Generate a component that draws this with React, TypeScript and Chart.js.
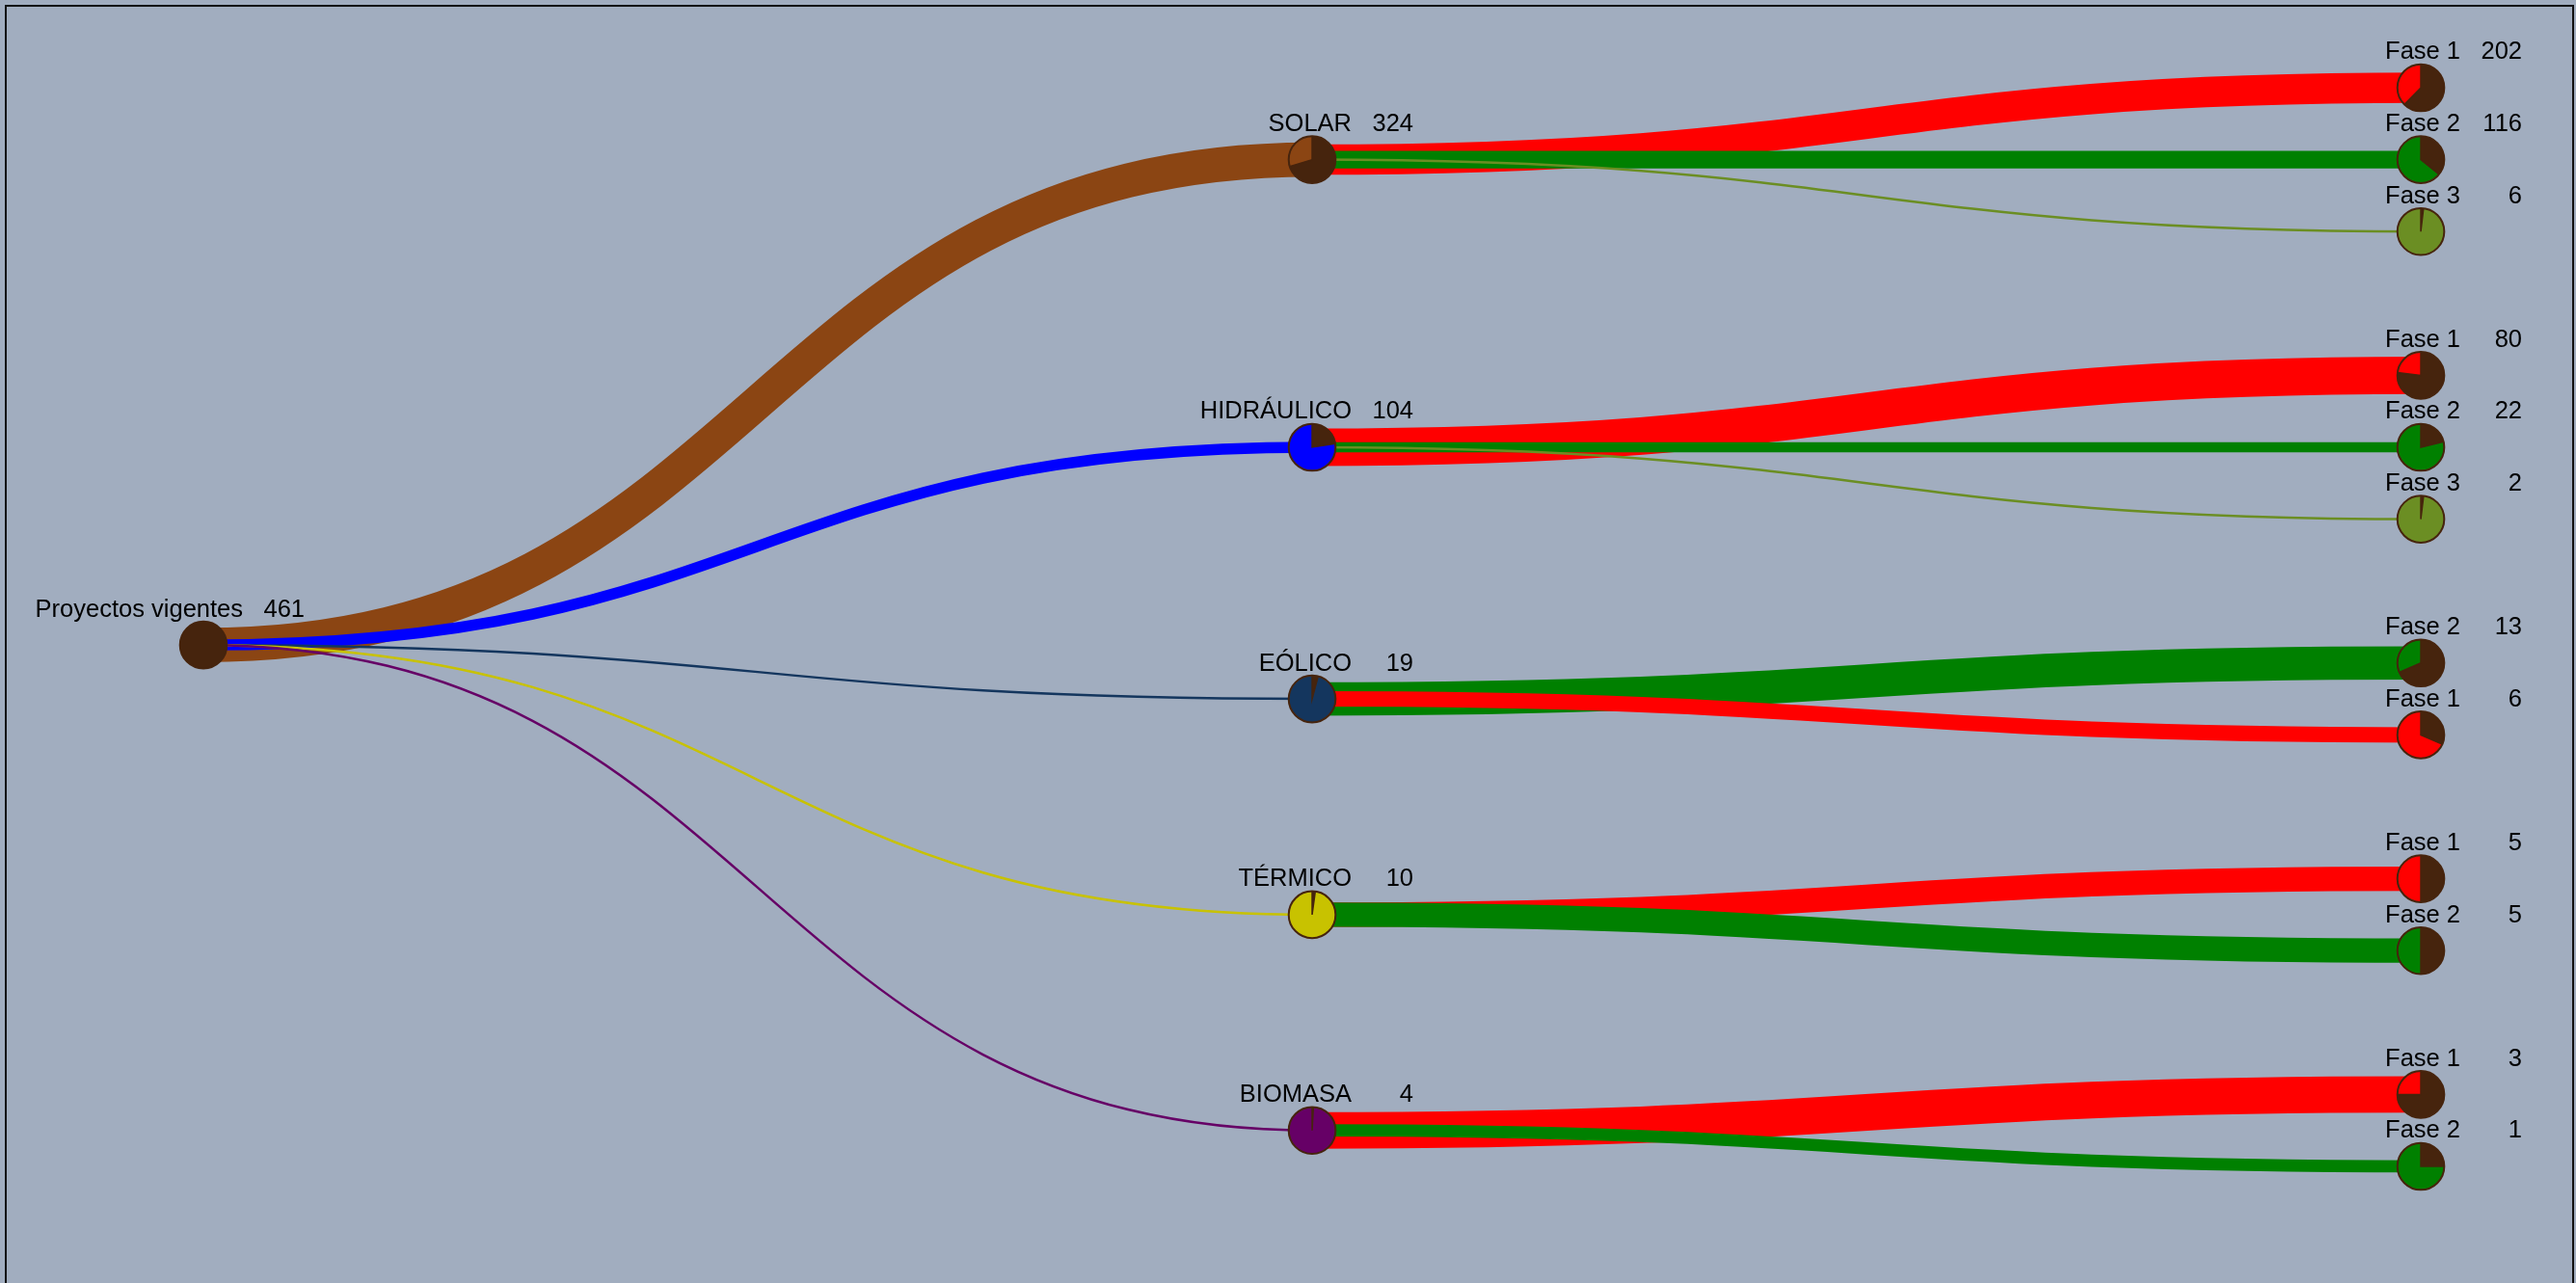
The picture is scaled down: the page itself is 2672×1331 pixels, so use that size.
import React, { useEffect, useRef } from "react";
import { Chart, registerables } from "chart.js";

Chart.register(...registerables);

// ---- data ----
const rootName = "Proyectos vigentes";
const rootValue = 461;
const categories = ["SOLAR", "HIDRÁULICO", "EÓLICO", "TÉRMICO", "BIOMASA"];
const categoryValues = [324, 104, 19, 10, 4];
const phaseNames = [
  ["Fase 1", "Fase 2", "Fase 3"],
  ["Fase 1", "Fase 2", "Fase 3"],
  ["Fase 2", "Fase 1"],
  ["Fase 1", "Fase 2"],
  ["Fase 1", "Fase 2"],
];
const phaseValues = [
  [202, 116, 6],
  [80, 22, 2],
  [13, 6],
  [5, 5],
  [3, 1],
];

// ---- styles ----
const BG = "#a1adbf";
const DARK = "#46240d";
const categoryColors = ["#8b4513", "#0000ff", "#14365e", "#c8c200", "#660066"];
const phaseColors: Record<string, string> = {
  "Fase 1": "#ff0000",
  "Fase 2": "#008000",
  "Fase 3": "#6b8e23",
};
const NODE_R = 24.3;
const LINK_K = 50.6;
const FONT = "25.5px 'Liberation Sans', Arial, sans-serif";

type Node = {
  name: string;
  value: number;
  parentValue: number;
  color: string;
  level: number;
  slot: number;
  parent?: Node;
};

// tidy-tree style layout: siblings 1 slot apart, cousins 2 slots apart,
// parents centred between first and last child
function buildTree(): Node[] {
  let next = 0;
  const cats: Node[] = [];
  const leaves: Node[] = [];
  categories.forEach((c, i) => {
    const kids: Node[] = phaseNames[i].map((p, j) => ({
      name: p,
      value: phaseValues[i][j],
      parentValue: categoryValues[i],
      color: phaseColors[p],
      level: 2,
      slot: next + j,
    }));
    next = kids[kids.length - 1].slot + 2;
    const cat: Node = {
      name: c,
      value: categoryValues[i],
      parentValue: rootValue,
      color: categoryColors[i],
      level: 1,
      slot: (kids[0].slot + kids[kids.length - 1].slot) / 2,
    };
    kids.forEach((k) => (k.parent = cat));
    cats.push(cat);
    leaves.push(...kids);
  });
  const root: Node = {
    name: rootName,
    value: rootValue,
    parentValue: rootValue,
    color: DARK,
    level: 0,
    slot: (cats[0].slot + cats[cats.length - 1].slot) / 2,
  };
  cats.forEach((c) => (c.parent = root));
  return [root, ...cats, ...leaves];
}

const treePlugin = {
  id: "treePlugin",
  afterDatasetsDraw(chart: any) {
    const nodes: Node[] = chart.options.plugins.treePlugin.nodes;
    const xs = chart.scales.x;
    const ys = chart.scales.y;
    const ctx: CanvasRenderingContext2D = chart.ctx;
    const px = (n: Node) => xs.getPixelForValue(n.level);
    const py = (n: Node) => ys.getPixelForValue(n.slot);
    ctx.save();
    // links
    nodes.forEach((n) => {
      if (!n.parent) return;
      const x0 = px(n.parent), y0 = py(n.parent);
      const x1 = px(n), y1 = py(n);
      const mx = (x0 + x1) / 2;
      ctx.beginPath();
      ctx.moveTo(x0, y0);
      ctx.bezierCurveTo(mx, y0, mx, y1, x1, y1);
      ctx.strokeStyle = n.color;
      ctx.lineWidth = Math.max(2.5, (LINK_K * n.value) / n.parentValue);
      ctx.lineCap = "butt";
      ctx.stroke();
    });
    // nodes
    nodes.forEach((n) => {
      const x = px(n), y = py(n);
      const frac = n.value / n.parentValue;
      ctx.beginPath();
      ctx.arc(x, y, NODE_R, 0, Math.PI * 2);
      ctx.fillStyle = n.color;
      ctx.fill();
      if (frac > 0) {
        const a0 = -Math.PI / 2;
        const a1 = a0 + frac * Math.PI * 2;
        ctx.beginPath();
        ctx.moveTo(x, y);
        ctx.arc(x, y, NODE_R, a0, a1);
        ctx.closePath();
        ctx.fillStyle = DARK;
        ctx.fill();
        if (frac < 1) {
          ctx.beginPath();
          ctx.moveTo(x + NODE_R * Math.cos(a0), y + NODE_R * Math.sin(a0));
          ctx.lineTo(x, y);
          ctx.lineTo(x + NODE_R * Math.cos(a1), y + NODE_R * Math.sin(a1));
          ctx.strokeStyle = DARK;
          ctx.lineWidth = 1.5;
          ctx.stroke();
        }
      }
      ctx.beginPath();
      ctx.arc(x, y, NODE_R, 0, Math.PI * 2);
      ctx.strokeStyle = DARK;
      ctx.lineWidth = 2;
      ctx.stroke();
    });
    // labels
    ctx.font = FONT;
    ctx.fillStyle = "#000";
    ctx.textBaseline = "alphabetic";
    ctx.textAlign = "right";
    nodes.forEach((n) => {
      const x = px(n), y = py(n);
      ctx.fillText(n.name, x + 41, y - 29.5);
      ctx.fillText(String(n.value), x + 105, y - 29.5);
    });
    ctx.restore();
  },
};

export default function App() {
  const ref = useRef<HTMLCanvasElement>(null);
  useEffect(() => {
    const nodes = buildTree();
    const chart = new Chart(ref.current as HTMLCanvasElement, {
      type: "scatter",
      data: {
        datasets: [
          {
            data: nodes.map((n) => ({ x: n.level, y: n.slot })),
            pointRadius: 0,
            pointHoverRadius: 0,
          },
        ],
      },
      options: {
        animation: false,
        responsive: false,
        events: [],
        layout: { padding: 0 },
        scales: {
          x: { type: "linear", display: false, min: -0.1774, max: 2.1365 },
          y: { type: "linear", display: false, reverse: true, min: -1.126, max: 16.622 },
        },
        plugins: {
          legend: { display: false },
          tooltip: { enabled: false },
          treePlugin: { nodes },
        } as any,
      },
      plugins: [treePlugin],
    });
    return () => chart.destroy();
  }, []);
  return (
    <div style={{ position: "fixed", inset: 0, background: BG, overflow: "hidden" }}>
      <div
        style={{
          position: "absolute",
          left: 5,
          top: 5,
          width: 2661,
          height: 1400,
          border: "2px solid #111",
          background: BG,
        }}
      >
        <canvas ref={ref} width={2661} height={1324} style={{ display: "block" }} />
      </div>
    </div>
  );
}
